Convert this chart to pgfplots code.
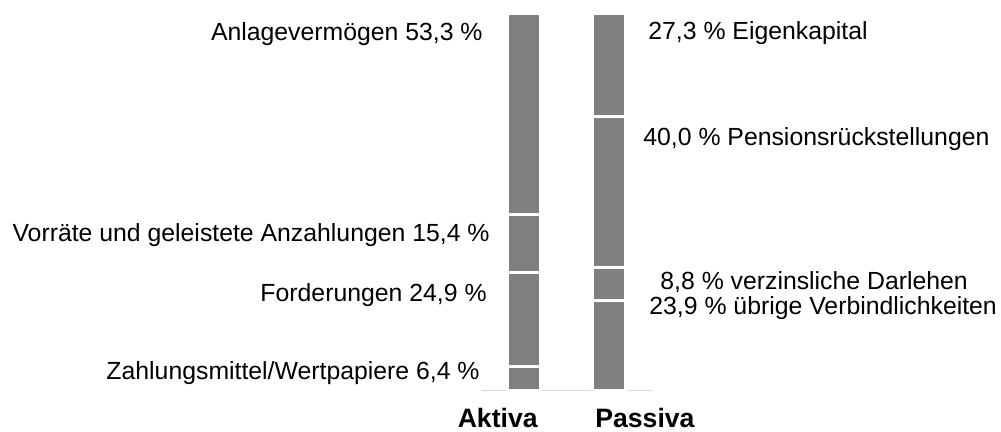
\documentclass[border=0pt]{standalone}
\usepackage{pgfplots}
\pgfplotsset{compat=1.18}
\usepackage{fontspec}
\setmainfont{Liberation Sans}
\definecolor{bargray}{RGB}{127,127,127}
\definecolor{axgray}{RGB}{217,217,217}
\begin{document}
\begin{tikzpicture}[x=0.5pt,y=0.5pt]
\useasboundingbox (0,0) rectangle (1001,432);
\begin{axis}[
  at={(240.75pt,20.75pt)}, anchor=south west,
  scale only axis, width=85pt, height=188.25pt,
  xmin=-0.5, xmax=1.5, ymin=0, ymax=100,
  enlargelimits=false,
  axis x line*=bottom, hide y axis,
  x axis line style={draw=axgray, line width=0.75pt},
  xtick=\empty, ytick=\empty,
  ybar stacked, bar width=16.5pt,
  seg/.style={fill=bargray, draw=white, line width=1.5pt},
  clip=false,
]
\addplot[seg] coordinates {(0,6.4) (1,23.9)};
\addplot[seg] coordinates {(0,24.9) (1,8.8)};
\addplot[seg] coordinates {(0,15.4) (1,40.0)};
\addplot[seg] coordinates {(0,53.3) (1,27.3)};
\end{axis}
\begin{scope}[every node/.style={inner sep=0pt, font=\fontsize{12.4}{14}\selectfont}]
\node[anchor=base east] at (483,391) {Anlagevermögen 53,3 \%};
\node[anchor=base east] at (490,190) {Vorräte und geleistete Anzahlungen 15,4 \%};
\node[anchor=base east] at (487,130) {Forderungen 24,9 \%};
\node[anchor=base east] at (480,52) {Zahlungsmittel/Wertpapiere 6,4 \%};
\node[anchor=base west] at (648,392) {27,3 \% Eigenkapital};
\node[anchor=base west] at (643,286) {40,0 \% Pensionsrückstellungen};
\node[anchor=base west] at (660,142) {8,8 \% verzinsliche Darlehen};
\node[anchor=base west] at (649,117) {23,9 \% übrige Verbindlichkeiten};
\end{scope}
\node[inner sep=0pt, anchor=base east, font=\fontsize{13.3}{15}\selectfont\bfseries] at (538,4) {Aktiva};
\node[inner sep=0pt, anchor=base west, font=\fontsize{13.3}{15}\selectfont\bfseries] at (595,4) {Passiva};
\end{tikzpicture}
\end{document}
